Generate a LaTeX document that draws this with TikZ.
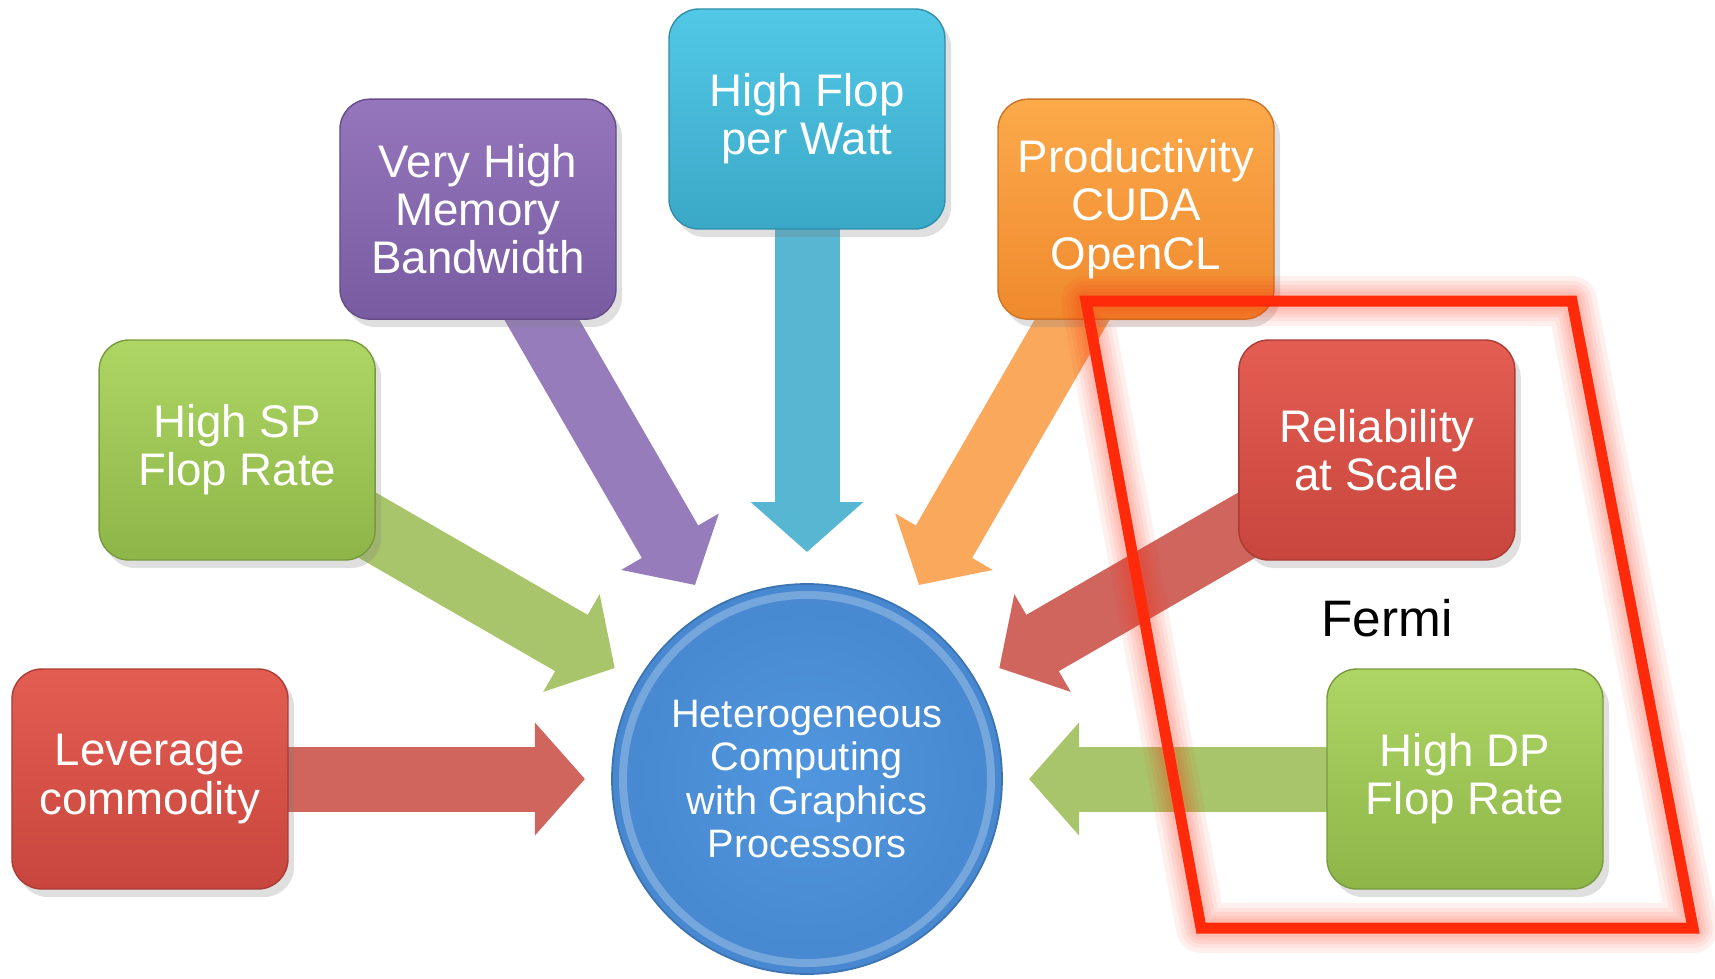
\documentclass[tikz,border=0pt]{standalone}
\usepackage{fontspec}
\setmainfont{Liberation Sans}
\usetikzlibrary{arrows.meta,shadows,backgrounds}

\definecolor{redtop}{HTML}{E35D52}
\definecolor{redbot}{HTML}{C8463E}
\definecolor{redarr}{HTML}{D0655E}
\definecolor{greentop}{HTML}{AED664}
\definecolor{greenbot}{HTML}{8DB548}
\definecolor{greenarr}{HTML}{A9C56B}
\definecolor{purptop}{HTML}{9576BD}
\definecolor{purpbot}{HTML}{785BA0}
\definecolor{purparr}{HTML}{967CBB}
\definecolor{cyantop}{HTML}{52C8E6}
\definecolor{cyanbot}{HTML}{3AA8C7}
\definecolor{cyanarr}{HTML}{57B6D2}
\definecolor{orgtop}{HTML}{FBAA4A}
\definecolor{orgbot}{HTML}{F0892E}
\definecolor{orgarr}{HTML}{F9A85C}
\definecolor{bluein}{HTML}{5096DE}
\definecolor{blueout}{HTML}{4788D0}
\definecolor{frame}{HTML}{FF2A0A}

\begin{document}
\begin{tikzpicture}[
    box/.style={rounded corners=3mm, minimum width=2.76cm, minimum height=2.2cm,
        inner sep=0pt, align=center, text=white, font=\fontsize{13}{13.7}\selectfont,
        drop shadow={opacity=.25, shadow xshift=.6mm, shadow yshift=-.8mm}},
    flow/.style={line width=6.5mm, -{Triangle[width=11mm,length=5mm]}},
]
    \useasboundingbox (-8.07,-1.99) rectangle (9.08,7.79);

    % the hub
    \node[circle, minimum size=3.9cm, inner sep=0pt, inner color=bluein, outer color=blueout,
        draw=blueout!85!black, line width=.5pt, text=white, align=center,
        font=\fontsize{11.3}{12.4}\selectfont] (gpu) at (0,0)
        {Heterogeneous\\Computing\\with Graphics\\Processors};
    \draw[white, opacity=.25, line width=.8mm] (gpu.center) circle (1.84);

    % the seven boxes on a ring round the hub
    \node[box, top color=redtop, bottom color=redbot, draw=redbot!85!black] (lev) at (180:6.57) {Leverage\\commodity};
    \node[box, top color=greentop, bottom color=greenbot, draw=greenbot!85!black] (sp) at (150:6.58) {High SP\\Flop Rate};
    \node[box, top color=purptop, bottom color=purpbot, draw=purpbot!85!black] (mem) at (120:6.58) {Very High\\Memory\\Bandwidth};
    \node[box, top color=cyantop, bottom color=cyanbot, draw=cyanbot!85!black] (watt) at (90:6.6) {High Flop\\per Watt};
    \node[box, top color=orgtop, bottom color=orgbot, draw=orgbot!85!black] (cuda) at (60:6.58) {Productivity\\CUDA\\OpenCL};
    \node[box, top color=redtop, bottom color=redbot, draw=redbot!85!black] (rel) at (30:6.58) {Reliability\\at Scale};
    \node[box, top color=greentop, bottom color=greenbot, draw=greenbot!85!black] (dp) at (0:6.58) {High DP\\Flop Rate};

    % arrow tips stop short of the hub
    \coordinate (tlev) at (180:2.22);
    \coordinate (tsp) at (150:2.22);
    \coordinate (tmem) at (120:2.24);
    \coordinate (twatt) at (90:2.27);
    \coordinate (tcuda) at (60:2.24);
    \coordinate (trel) at (30:2.22);
    \coordinate (tdp) at (0:2.22);

    \begin{scope}[on background layer]
        \draw[flow, redarr] (lev.center) -- (tlev);
        \draw[flow, greenarr] (sp.center) -- (tsp);
        \draw[flow, purparr] (mem.center) -- (tmem);
        \draw[flow, cyanarr] (watt.center) -- (twatt);
        \draw[flow, orgarr] (cuda.center) -- (tcuda);
        \draw[flow, redarr] (rel.center) -- (trel);
        \draw[flow, greenarr] (dp.center) -- (tdp);
    \end{scope}

    \node[font=\fontsize{14.6}{16}\selectfont] (fermi) at (5.8,1.61) {Fermi};

    % glowing frame round the Fermi part
    \foreach \w in {5,4,3.2,2.5,1.9}
        \draw[frame, opacity=.07, line width=\w mm, line join=round] (2.79,4.78) -- (7.65,4.78) -- (8.86,-1.49) -- (3.94,-1.49) -- cycle;
    \draw[frame, line width=1.1mm, line join=miter] (2.79,4.78) -- (7.65,4.78) -- (8.86,-1.49) -- (3.94,-1.49) -- cycle;
\end{tikzpicture}
\end{document}
